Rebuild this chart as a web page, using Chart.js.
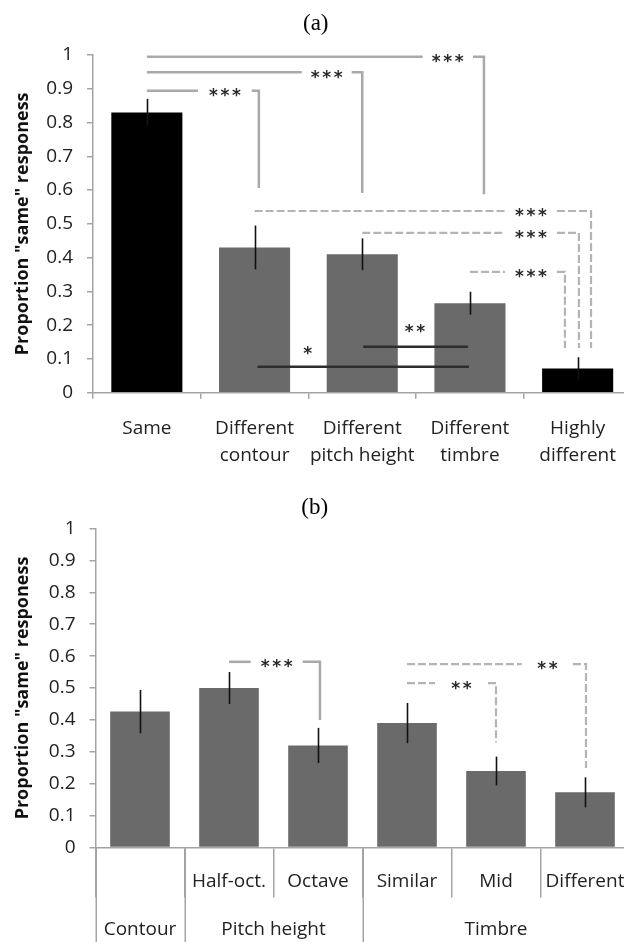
<!DOCTYPE html>
<html><head><meta charset="utf-8">
<script src="https://cdn.jsdelivr.net/npm/chart.js@4.4.1/dist/chart.umd.min.js"></script>
<style>
html,body{margin:0;padding:0;background:#fff;overflow:hidden;width:624px;height:942px;position:relative;}
#ca{position:absolute;left:0;top:0;}
#cb{position:absolute;left:0;top:480px;}
</style></head><body>
<canvas id="ca" width="640" height="480" style="width:640px;height:480px"></canvas>
<canvas id="cb" width="640" height="462" style="width:640px;height:462px"></canvas>
<script>
// ---------- data ----------
const catsA = [['Same'], ['Different','contour'], ['Different','pitch height'], ['Different','timbre'], ['Highly','different']];
const meansA = [0.83, 0.43, 0.41, 0.265, 0.072];
const errsA = [0.04, 0.065, 0.047, 0.034, 0.033];

const subCatsB = ['', 'Half-oct.', 'Octave', 'Similar', 'Mid', 'Different'];
const groupsB = ['Contour', 'Pitch height', 'Pitch height', 'Timbre', 'Timbre', 'Timbre'];
const meansB = [0.426, 0.50, 0.32, 0.39, 0.24, 0.173];
const errsB = [0.068, 0.05, 0.055, 0.063, 0.045, 0.047];

const yTickValues = [0, 0.1, 0.2, 0.3, 0.4, 0.5, 0.6, 0.7, 0.8, 0.9, 1];
const yTickLabels = ['0', '0.1', '0.2', '0.3', '0.4', '0.5', '0.6', '0.7', '0.8', '0.9', '1'];

// significance annotations (category index / value units)
const bracketsA = [
  {kind:'solid',  x1:0, y:0.894, gap:[0.475,0.974], x2:1.04,  yEnd:0.606, label:'***'},
  {kind:'solid',  x1:0, y:0.949, gap:[1.438,1.902], x2:2.0,   yEnd:0.591, label:'***'},
  {kind:'solid',  x1:0, y:0.995, gap:[2.561,3.028], x2:3.13,  yEnd:0.588, label:'***'},
  {kind:'dashed', x1:1, y:0.538, gap:[3.325,3.808], x2:4.124, yEnd:0.132, label:'***'},
  {kind:'dashed', x1:2, y:0.473, gap:[3.325,3.808], x2:4.012, yEnd:0.132, label:'***'},
  {kind:'dashed', x1:3, y:0.358, gap:[3.325,3.808], x2:3.882, yEnd:0.132, label:'***'}
];
const linesA = [
  {x1:1.026, x2:2.991, y:0.077, label:'*',  lx:1.494, ly:0.126},
  {x1:2.01,  x2:2.982, y:0.136, label:'**', lx:2.49,  ly:0.189}
];
const bracketsB = [
  {kind:'solid',  x1:1, y:0.582, gap:[1.244,1.828], x2:2.022, yEnd:0.40,  label:'***'},
  {kind:'dashed', x1:3, y:0.575, gap:[4.289,4.865], x2:5.011, yEnd:0.249, label:'**'},
  {kind:'dashed', x1:3, y:0.515, gap:[3.315,3.91],  x2:4.0,   yEnd:0.329, label:'**'}
];

// ---------- styles ----------
const AXIS_GREY = '#a4a4a4';
const BAR_GREY = '#6a6a6a';
const TEXT = '#222';
const SIG = {
  solid:  {color:'#a9a9a9', width:2.5, dash:[]},
  dashed: {color:'#b4b4b4', width:2.2, dash:[8,3]},
  black:  {color:'#2e2e2e', width:2.5, dash:[]}
};

function drawStars(ctx, label, cx, cy) {
  ctx.save();
  ctx.font = 'bold 17px "DejaVu Sans"';
  ctx.textAlign = 'center';
  ctx.textBaseline = 'middle';
  ctx.fillStyle = '#2a2a2a';
  const n = label.length, sp = 11.5;
  for (let k = 0; k < n; k++) ctx.fillText('*', cx + (k - (n - 1) / 2) * sp, cy + 4);
  ctx.restore();
}

const errorBars = {
  id: 'errorBars',
  afterDatasetsDraw(chart, args, opts) {
    const {ctx, scales: {x, y}} = chart;
    const vals = chart.data.datasets[0].data;
    ctx.save();
    ctx.strokeStyle = '#111';
    ctx.lineWidth = 1.6;
    vals.forEach((v, i) => {
      const px = Math.round(x.getPixelForValue(i)) + 0.5;
      ctx.beginPath();
      ctx.moveTo(px, y.getPixelForValue(v + opts.errors[i]));
      ctx.lineTo(px, y.getPixelForValue(v - opts.errors[i]));
      ctx.stroke();
    });
    ctx.restore();
  }
};

const sigPlugin = {
  id: 'sig',
  afterDatasetsDraw(chart, args, opts) {
    const {ctx, scales: {x, y}} = chart;
    const X = v => x.getPixelForValue(v), Y = v => y.getPixelForValue(v);
    (opts.brackets || []).forEach(b => {
      const st = SIG[b.kind];
      ctx.save();
      ctx.strokeStyle = st.color; ctx.lineWidth = st.width; ctx.setLineDash(st.dash);
      ctx.beginPath();
      ctx.moveTo(X(b.x1), Y(b.y)); ctx.lineTo(X(b.gap[0]), Y(b.y));
      ctx.stroke();
      ctx.beginPath();
      ctx.moveTo(X(b.gap[1]), Y(b.y)); ctx.lineTo(X(b.x2), Y(b.y)); ctx.lineTo(X(b.x2), Y(b.yEnd));
      ctx.stroke();
      ctx.restore();
      drawStars(ctx, b.label, (X(b.gap[0]) + X(b.gap[1])) / 2, Y(b.y) + 2);
    });
    (opts.lines || []).forEach(l => {
      const st = SIG.black;
      ctx.save();
      ctx.strokeStyle = st.color; ctx.lineWidth = st.width;
      ctx.beginPath();
      ctx.moveTo(X(l.x1), Y(l.y)); ctx.lineTo(X(l.x2), Y(l.y));
      ctx.stroke();
      ctx.restore();
      drawStars(ctx, l.label, X(l.lx), Y(l.ly));
    });
  }
};

const groupPlugin = {
  id: 'groups',
  afterDraw(chart, args, opts) {
    const groups = opts.groups;
    if (!groups) return;
    const {ctx, scales: {x}, chartArea} = chart;
    const half = (x.getPixelForValue(1) - x.getPixelForValue(0)) / 2;
    ctx.save();
    ctx.strokeStyle = AXIS_GREY; ctx.lineWidth = 1.5;
    groups.forEach((g, i) => {
      if (i === 0 || g !== groups[i - 1]) {
        const px = Math.round(x.getPixelForValue(i) - half) + 0.25;
        ctx.beginPath(); ctx.moveTo(px, chartArea.bottom); ctx.lineTo(px, chart.height); ctx.stroke();
      }
    });
    ctx.font = '19px "Open Sans"';
    ctx.fillStyle = TEXT; ctx.textAlign = 'center'; ctx.textBaseline = 'middle';
    let start = 0;
    for (let i = 1; i <= groups.length; i++) {
      if (i === groups.length || groups[i] !== groups[start]) {
        const cx = (x.getPixelForValue(start) + x.getPixelForValue(i - 1)) / 2;
        ctx.fillText(groups[start], cx, chartArea.bottom + opts.offset);
        start = i;
      }
    }
    ctx.restore();
  }
};

function yScale(width) {
  return {
    min: 0, max: 1,
    afterBuildTicks: s => { s.ticks = yTickValues.map(v => ({value: v})); },
    afterFit: s => { s.width = width; },
    ticks: {
      callback: (v, i) => yTickLabels[i],
      font: {family: 'Open Sans', size: 19},
      color: TEXT, padding: 14
    },
    grid: {drawOnChartArea: false, tickLength: 6, color: AXIS_GREY, lineWidth: 1.5},
    border: {color: AXIS_GREY, width: 1.5},
    title: {
      display: true, text: 'Proportion "same" responess',
      font: {family: 'Open Sans', size: 18, weight: 'bold'},
      color: '#111', padding: {top: 12, bottom: 0}
    }
  };
}

Chart.register(errorBars, sigPlugin, groupPlugin);

new Chart(document.getElementById('ca'), {
  type: 'bar',
  data: {
    labels: catsA,
    datasets: [{
      data: meansA,
      backgroundColor: ctx => (ctx.dataIndex === 0 || ctx.dataIndex === 4) ? '#000' : BAR_GREY,
      categoryPercentage: 1, barPercentage: 0.66
    }]
  },
  options: {
    responsive: false, animation: false,
    layout: {padding: {left: 0, right: 8.5, top: 0, bottom: 0}},
    plugins: {
      legend: {display: false}, tooltip: {enabled: false},
      title: {display: true, text: '(a)', color: '#000',
        font: {family: 'Liberation Serif', size: 23, weight: 'normal', lineHeight: 1.2},
        padding: {top: 10, bottom: 17.4}},
      errorBars: {errors: errsA},
      sig: {brackets: bracketsA, lines: linesA},
      groups: {}
    },
    scales: {
      x: {
        afterFit: s => { s.height = 87.3; },
        ticks: {font: {family: 'Open Sans', size: 19, lineHeight: 1.42}, color: TEXT, padding: 16,
          autoSkip: false, maxRotation: 0},
        grid: {drawOnChartArea: false, tickLength: 6, color: AXIS_GREY, lineWidth: 1.5},
        border: {color: AXIS_GREY, width: 1.5}
      },
      y: yScale(93)
    }
  }
});

new Chart(document.getElementById('cb'), {
  type: 'bar',
  data: {
    labels: subCatsB,
    datasets: [{
      data: meansB,
      backgroundColor: BAR_GREY,
      categoryPercentage: 1, barPercentage: 0.67
    }]
  },
  options: {
    responsive: false, animation: false,
    layout: {padding: {left: 0, right: 10.5, top: 0, bottom: 0}},
    plugins: {
      legend: {display: false}, tooltip: {enabled: false},
      title: {display: true, text: '(b)', color: '#000',
        font: {family: 'Liberation Serif', size: 23, weight: 'normal', lineHeight: 1.2},
        padding: {top: 14.2, bottom: 6.7}},
      errorBars: {errors: errsB},
      sig: {brackets: bracketsB, lines: []},
      groups: {groups: groupsB, offset: 82.5}
    },
    scales: {
      x: {
        afterFit: s => { s.height = 94.5; },
        ticks: {font: {family: 'Open Sans', size: 19, lineHeight: 1.2}, color: TEXT, padding: -27,
          autoSkip: false, maxRotation: 0},
        grid: {drawOnChartArea: false, tickLength: 50, color: AXIS_GREY, lineWidth: 1.5},
        border: {color: AXIS_GREY, width: 1.5}
      },
      y: yScale(95.5)
    }
  }
});
</script>
</body></html>
